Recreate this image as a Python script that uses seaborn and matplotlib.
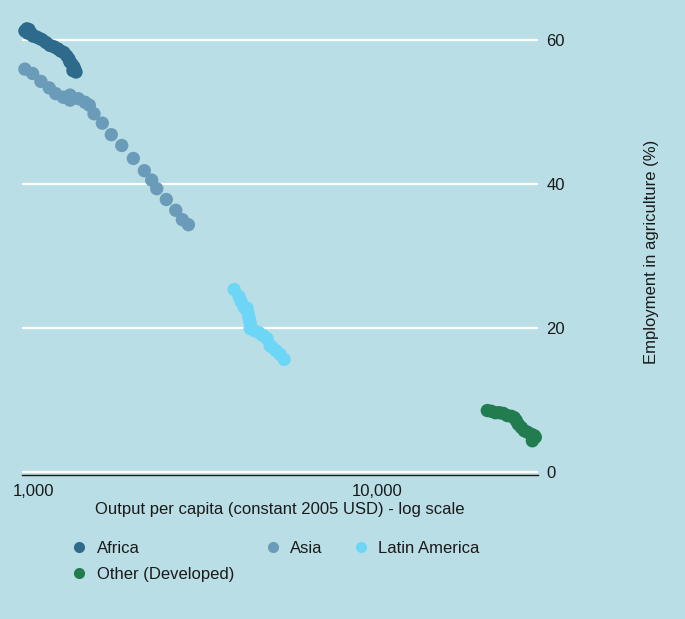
import pandas as pd
import matplotlib.pyplot as plt
import seaborn as sns
from matplotlib.lines import Line2D
from matplotlib.ticker import FixedLocator, NullLocator

# output per capita (constant 2005 USD) and employment in agriculture (%)
africa_x = [941, 954, 967, 960, 980, 993, 1013, 1034, 1055, 1084, 1113, 1144,
            1175, 1198, 1223, 1248, 1265, 1273, 1290, 1308, 1317, 1326, 1299]
africa_y = [61.3, 61.6, 61.5, 61.0, 61.0, 60.6, 60.5, 60.3, 60.1, 59.7, 59.3, 59.1,
            58.8, 58.5, 58.3, 57.8, 57.4, 57.0, 56.7, 56.3, 55.9, 55.6, 55.8]

asia_x = [941, 991, 1048, 1108, 1157, 1217, 1274, 1274, 1347, 1408, 1450, 1496,
          1582, 1680, 1802, 1948, 2097, 2203, 2279, 2430, 2589, 2706, 2818]
asia_y = [56.0, 55.4, 54.3, 53.4, 52.6, 52.1, 52.4, 51.7, 51.9, 51.4, 51.0, 49.8,
          48.5, 46.9, 45.4, 43.6, 41.9, 40.6, 39.4, 37.9, 36.4, 35.1, 34.4]

latam_x = [3830, 3960, 4014, 4096, 4178, 4206, 4235, 4263, 4263, 4379, 4529, 4652,
           4778, 4875, 4941, 5075, 5213, 5355]
latam_y = [25.4, 24.4, 23.7, 22.9, 22.8, 22.1, 21.4, 20.8, 20.0, 19.7, 19.4, 19.0,
           18.6, 17.6, 17.4, 16.9, 16.4, 15.7]

other_x = [20925, 21500, 22080, 22680, 23300, 23930, 24580, 25080, 25420, 25760,
           26290, 26820, 27370, 28120, 28690, 28500, 28310, 28880]
other_y = [8.6, 8.5, 8.3, 8.3, 8.2, 7.9, 7.8, 7.6, 7.2, 6.7,
           6.25, 5.8, 5.6, 5.3, 5.1, 4.7, 4.4, 4.9]

regions = ['Africa', 'Asia', 'Latin America', 'Other (Developed)']
colors = ['#2d6a8b', '#6a9cba', '#6dd6f7', '#217c50']
xticks = [1000, 10000]
xticklabels = ['1,000', '10,000']
yticks = [0, 20, 40, 60]

frames = []
for name, xs, ys in zip(regions, [africa_x, asia_x, latam_x, other_x],
                        [africa_y, asia_y, latam_y, other_y]):
    frames.append(pd.DataFrame({'output': xs, 'agri': ys, 'region': name}))
df = pd.concat(frames, ignore_index=True)

bg = '#b9dee6'
sns.set_style('white')
plt.rcParams['font.family'] = ['Liberation Sans', 'DejaVu Sans']
plt.rcParams['text.color'] = '#1a1a1a'

fig = plt.figure(figsize=(6.85, 6.19), dpi=100, facecolor=bg)
ax = fig.add_axes([22 / 685, 1 - 474.5 / 619, 516 / 685, 474.5 / 619])
ax.set_facecolor(bg)

sns.scatterplot(data=df, x='output', y='agri', hue='region', hue_order=regions,
                palette=colors, s=92, linewidth=0, alpha=1, legend=False,
                ax=ax, zorder=3, clip_on=False)

ax.set_xscale('log')
ax.set_xlim(923, 29400)
ax.set_ylim(-0.28, 65.6)
ax.xaxis.set_major_locator(FixedLocator(xticks))
ax.xaxis.set_minor_locator(NullLocator())
ax.set_xticklabels(xticklabels)
ax.set_yticks(yticks)

ax.yaxis.tick_right()
ax.yaxis.set_label_position('right')
ax.grid(axis='y', color='white', linewidth=1.6)
ax.grid(axis='x', visible=False)
ax.set_axisbelow(True)
for side in ['top', 'left', 'right']:
    ax.spines[side].set_visible(False)
ax.spines['bottom'].set_color('#1a1a1a')
ax.spines['bottom'].set_linewidth(1.0)

ax.tick_params(axis='x', direction='in', length=5, width=0.8, color='#1a1a1a',
               pad=7, labelsize=12, labelcolor='#1a1a1a')
ax.tick_params(axis='y', length=0, pad=6, labelsize=12, labelcolor='#1a1a1a')

ax.set_xlabel('Output per capita (constant 2005 USD) - log scale', fontsize=12,
              labelpad=2, color='#1a1a1a')
ax.set_ylabel('Employment in agriculture (%)', fontsize=12, color='#1a1a1a')
ax.yaxis.set_label_coords(1.206, 0.47)

handles = [Line2D([], [], marker='o', linestyle='', markersize=8,
                  markerfacecolor=c, markeredgewidth=0) for c in colors]
order = [0, 3, 1, 2]
fig.legend([handles[i] for i in order], [regions[i] for i in order],
           ncol=3, frameon=False, fontsize=12, loc='upper left',
           bbox_to_anchor=(71 / 685, 1 - 541 / 619), handlelength=1.0,
           handletextpad=0.55, columnspacing=1.8, labelspacing=0.65,
           borderaxespad=0, borderpad=0)

fig.savefig('out.png', dpi=100, facecolor=bg)
